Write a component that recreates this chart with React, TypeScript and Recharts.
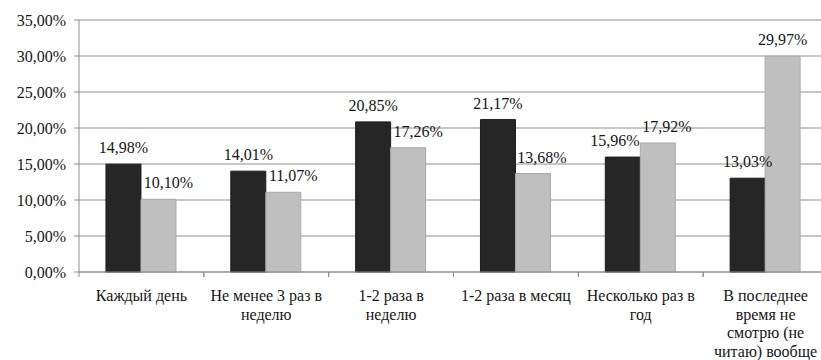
import React from 'react';
import { BarChart, Bar, XAxis, YAxis, CartesianGrid, LabelList } from 'recharts';

// how often people read / watch, share of respondents in two groups
const categories = [
    'Каждый день',
    'Не менее 3 раз в\nнеделю',
    '1-2 раза в\nнеделю',
    '1-2 раза в месяц',
    'Несколько раз в\nгод',
    'В последнее\nвремя не\nсмотрю (не\nчитаю) вообще',
];
const seriesA = [14.98, 14.01, 20.85, 21.17, 15.96, 13.03];
const seriesB = [10.1, 11.07, 17.26, 13.68, 17.92, 29.97];
const yTicks = [0, 5, 10, 15, 20, 25, 30, 35];

// sideways nudges so neighbouring labels don't collide
const shiftA = [0, 0, 0, 0, -8, 0];
const shiftB = [10, 10, 10, 9, 9, 0];

const FONT = "'Liberation Serif', 'DejaVu Serif', serif";
const TEXT = '#151515';
const GRID = '#8f8f8f';

const data = categories.map((name, i) => ({ name, a: seriesA[i], b: seriesB[i] }));

const pct = (v: number) => v.toFixed(2).replace('.', ',') + '%';

const makeLabel = (shifts: number[]) => (props: any) => {
    const { x, y, width, value, index } = props;
    return (
        <text
            x={x + width / 2 + shifts[index]}
            y={y - 11}
            textAnchor="middle"
            style={{ fontFamily: FONT, fontSize: 16 }}
            fill={TEXT}
        >
            {pct(value)}
        </text>
    );
};

const CategoryTick = (props: any) => {
    const { x, y, payload } = props;
    const half = payload.offset || 62.4;
    const lines = String(payload.value).split('\n');
    return (
        <g>
            <line x1={x - half} y1={y} x2={x - half} y2={y + 5} stroke={GRID} />
            <line x1={x + half} y1={y} x2={x + half} y2={y + 5} stroke={GRID} />
            <text textAnchor="middle" style={{ fontFamily: FONT, fontSize: 16 }} fill={TEXT}>
                {lines.map((line, i) => (
                    <tspan key={i} x={x} y={y + 29 + i * 18.5}>
                        {line}
                    </tspan>
                ))}
            </text>
        </g>
    );
};

export default function App() {
    return (
        <div
            style={{
                position: 'absolute',
                left: 0,
                top: 0,
                width: 821,
                height: 360,
                overflow: 'hidden',
                background: '#fff',
                fontFamily: FONT,
            }}
        >
            <BarChart
                width={832}
                height={360}
                data={data}
                margin={{ top: 20, right: 4, left: 0, bottom: 0 }}
                barCategoryGap="21.6%"
                barGap={0}
                style={{ fontFamily: FONT }}
            >
                <CartesianGrid vertical={false} stroke={GRID} />
                <XAxis
                    dataKey="name"
                    height={88}
                    interval={0}
                    tickLine={false}
                    tickSize={0}
                    tickMargin={0}
                    stroke={GRID}
                    tick={<CategoryTick />}
                />
                <YAxis
                    width={79}
                    domain={[0, 35]}
                    ticks={yTicks}
                    tickFormatter={pct}
                    stroke={GRID}
                    tickSize={5}
                    tickMargin={8}
                    tick={{ fontSize: 16, fill: TEXT, style: { fontFamily: FONT } }}
                />
                <Bar dataKey="a" fill="#262626" stroke="#1c1c1c" isAnimationActive={false}>
                    <LabelList dataKey="a" content={makeLabel(shiftA)} />
                </Bar>
                <Bar dataKey="b" fill="#bfbfbf" stroke="#a9a9a9" isAnimationActive={false}>
                    <LabelList dataKey="b" content={makeLabel(shiftB)} />
                </Bar>
            </BarChart>
        </div>
    );
}
